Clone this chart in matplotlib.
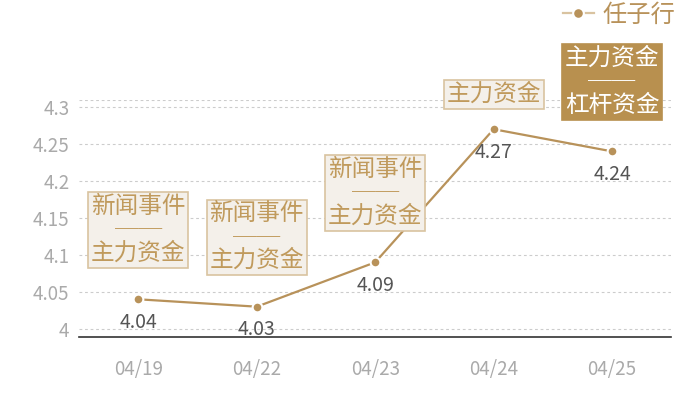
import matplotlib
matplotlib.use("Agg")
import matplotlib.pyplot as plt

plt.rcParams['font.family'] = ['Noto Sans CJK SC', 'DejaVu Sans']

# data
dates = ['04/19', '04/22', '04/23', '04/24', '04/25']
prices = [4.04, 4.03, 4.09, 4.27, 4.24]
series_name = '任子行'
notes = ['新闻事件\n──\n主力资金', '新闻事件\n──\n主力资金', '新闻事件\n──\n主力资金',
         '主力资金', '主力资金\n──\n杠杆资金']
note_dark = [False, False, False, False, True]
yticks = [4, 4.05, 4.1, 4.15, 4.2, 4.25, 4.3]

gold = '#b8925a'
fig = plt.figure(figsize=(7, 4), dpi=100)
ax = fig.add_axes([0.113, 0.1575, 0.846, 0.5925])

x = list(range(len(dates)))
ax.plot(x, prices, color=gold, lw=1.6, marker='o', markersize=7,
        markerfacecolor=gold, markeredgecolor='white', markeredgewidth=1.5,
        label=series_name, zorder=3)

ax.set_xlim(-0.5, len(dates) - 0.5)
ax.set_ylim(3.989, 4.3095)
ax.set_xticks(x)
ax.set_xticklabels(dates)
ax.set_yticks(yticks)
ax.set_yticklabels([f'{v:g}' for v in yticks])
ax.tick_params(axis='x', length=0, pad=16, labelsize=13.5, colors='#aaaaaa')
ax.tick_params(axis='y', length=0, pad=7, labelsize=13.5, colors='#aaaaaa')

for s in ['top', 'left', 'right']:
    ax.spines[s].set_visible(False)
ax.spines['bottom'].set_color('#333333')
ax.spines['bottom'].set_linewidth(1.2)

for v in yticks + [ax.get_ylim()[1]]:
    ax.axhline(v, color='#cccccc', lw=0.8, ls=(0, (2.5, 2.5)), zorder=0)

# value labels
for xi, v in zip(x, prices):
    ax.annotate(f'{v:g}', (xi, v), xytext=(0, -16.5), textcoords='offset points',
                ha='center', va='center', fontsize=14, color='#555555', zorder=4)

# event boxes
for xi, v, txt, dark in zip(x, prices, notes, note_dark):
    nlines = txt.count('\n') + 1
    dy = 50 if nlines > 1 else 25
    if dark:
        fc, ec, tc = '#b8904f', '#b8904f', 'white'
    else:
        fc, ec, tc = '#f4f0ea', '#d9c3a0', '#c09a5c'
    ax.annotate(txt, (xi, v), xytext=(0, dy), textcoords='offset points',
                ha='center', va='center', fontsize=17, color=tc,
                linespacing=1.02, annotation_clip=False, zorder=5,
                bbox=dict(boxstyle='square,pad=0.12', fc=fc, ec=ec, lw=1.2))

leg = ax.legend(loc='upper right', bbox_to_anchor=(0.965, 0.995),
                bbox_transform=fig.transFigure, frameon=False, borderpad=0,
                borderaxespad=0, handlelength=1.3, handletextpad=0.35,
                fontsize=17.5, markerscale=1.1)
for t in leg.get_texts():
    t.set_color(gold)
leg.get_lines()[0].set_color('#d9c3a0')
leg.get_lines()[0].set_markerfacecolor(gold)

fig.savefig('out.png', dpi=100)
